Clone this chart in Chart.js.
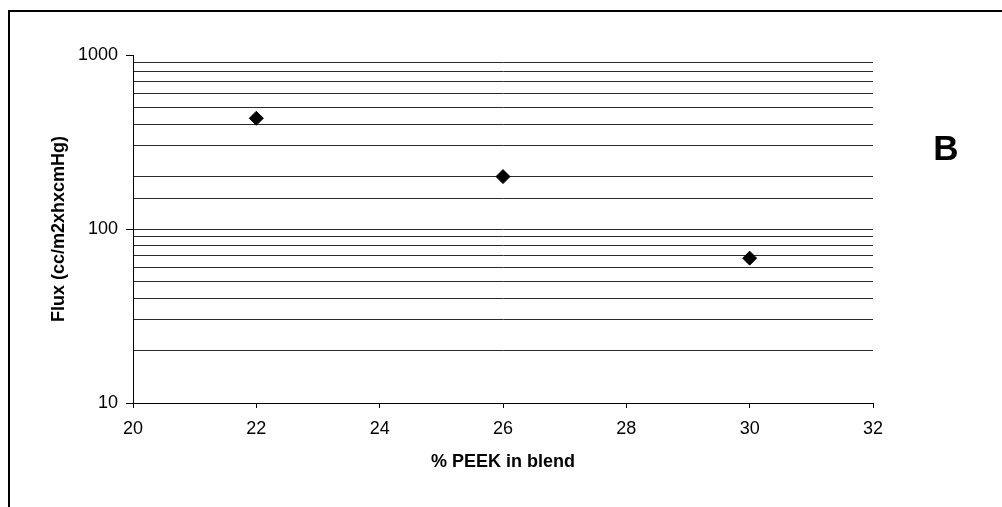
<!DOCTYPE html>
<html>
<head>
<meta charset="utf-8">
<script src="https://cdn.jsdelivr.net/npm/chart.js@4/dist/chart.umd.min.js"></script>
<style>
  body { margin: 0; background: #fff; }
  #frame {
    position: absolute; left: 8px; top: 10px; width: 994px; height: 497px;
    border-top: 2px solid #000; border-left: 2px solid #000;
  }
  #wrap { position: absolute; left: 0; top: 0; width: 1002px; height: 507px; }
</style>
</head>
<body>
<div id="frame"></div>
<div id="wrap"><canvas id="fluxChart" width="1002" height="507"></canvas></div>
<script>
// % PEEK in blend vs. flux
const peekPct = [22, 26, 30];
const fluxVals = [433, 200, 68];
const xTicks = [20, 22, 24, 26, 28, 30, 32];
const yLabels = [10, 100, 1000];

const isMajor = v => yLabels.includes(Math.round(v));

// panel letter
const panelLetter = {
  id: 'panelLetter',
  afterDraw(chart) {
    const ctx = chart.ctx;
    ctx.save();
    ctx.fillStyle = '#000';
    ctx.font = 'bold 35px "Liberation Sans", Arial, sans-serif';
    ctx.textAlign = 'center';
    ctx.textBaseline = 'alphabetic';
    ctx.fillText('B', 946, 160);
    ctx.restore();
  }
};

const config = {
  type: 'scatter',
  data: {
    datasets: [{
      label: 'Flux',
      data: peekPct.map((x, i) => ({ x: x, y: fluxVals[i] })),
      pointStyle: 'rectRot',
      pointRadius: 7,
      pointHoverRadius: 7,
      backgroundColor: '#000',
      borderColor: '#000',
      borderWidth: 1,
      showLine: false
    }]
  },
  options: {
    responsive: false,
    animation: false,
    layout: { padding: { top: 55, right: 129, left: 0, bottom: 0 } },
    plugins: { legend: { display: false }, tooltip: { enabled: false } },
    scales: {
      x: {
        type: 'linear',
        min: 20,
        max: 32,
        afterBuildTicks: scale => { scale.ticks = xTicks.map(v => ({ value: v })); },
        afterFit: scale => { scale.height = 104; },
        grid: { drawOnChartArea: false, color: '#000', tickLength: 5 },
        border: { color: '#000', width: 1 },
        ticks: {
          color: '#000',
          padding: 10,
          font: { family: '"Liberation Sans", Arial, sans-serif', size: 18 }
        },
        title: {
          display: true,
          text: '% PEEK in blend',
          color: '#000',
          padding: { top: 0, bottom: 34 },
          font: { family: '"Liberation Sans", Arial, sans-serif', size: 18, weight: 'bold' }
        }
      },
      y: {
        type: 'logarithmic',
        min: 10,
        max: 1000,
        afterFit: scale => { scale.width = 133; },
        grid: {
          color: ctx => (ctx.tick && Math.round(ctx.tick.value) === 1000) ? 'rgba(0,0,0,0)' : '#2a2a2a',
          tickColor: ctx => (ctx.tick && isMajor(ctx.tick.value)) ? '#000' : 'rgba(0,0,0,0)',
          tickLength: 7,
          lineWidth: 1
        },
        border: { color: '#000', width: 1 },
        ticks: {
          color: '#000',
          padding: 8,
          autoSkip: false,
          callback: v => isMajor(v) ? String(Math.round(v)) : '',
          font: { family: '"Liberation Sans", Arial, sans-serif', size: 18 }
        },
        title: {
          display: true,
          text: 'Flux (cc/m2xhxcmHg)',
          color: '#000',
          padding: { top: 48, bottom: 0 },
          font: { family: '"Liberation Sans", Arial, sans-serif', size: 18, weight: 'bold' }
        }
      }
    }
  },
  plugins: [panelLetter]
};

new Chart(document.getElementById('fluxChart'), config);
</script>
</body>
</html>
